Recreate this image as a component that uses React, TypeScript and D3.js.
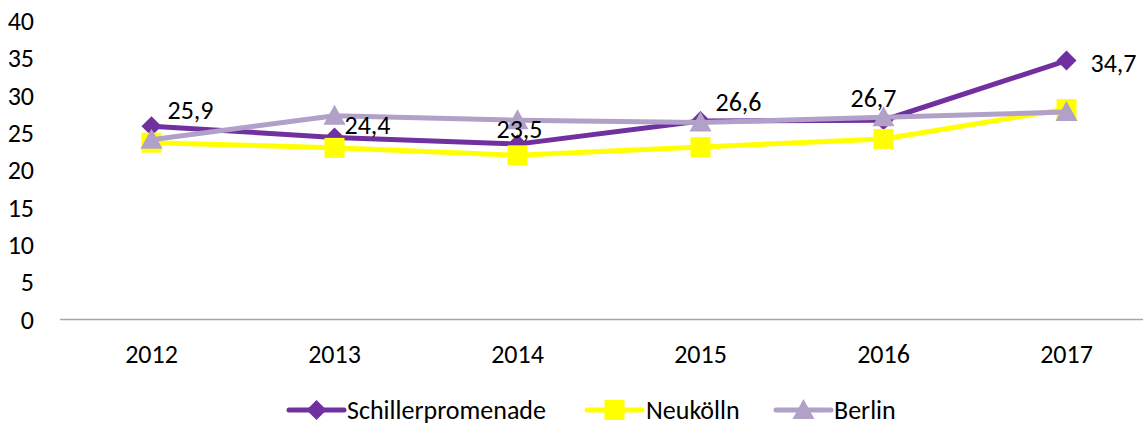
import React from "react";
import * as d3 from "d3";

const years = ["2012", "2013", "2014", "2015", "2016", "2017"];
const schiller = [25.9, 24.4, 23.5, 26.6, 26.7, 34.7];
const neukoelln = [23.7, 23.0, 22.0, 23.1, 24.2, 28.2];
const berlin = [24.1, 27.3, 26.7, 26.4, 27.1, 27.8];
const yTicks = [0, 5, 10, 15, 20, 25, 30, 35, 40];
const seriesNames = ["Schillerpromenade", "Neukölln", "Berlin"];

const labelOffsets: [number, number][] = [
  [39, -16], [33, -12], [2, -15], [38, -19], [-10, -22], [47, 2],
];

const W = 1145, H = 426;
const FONT = "Carlito, Calibri, Lato, sans-serif";
const FS = 26;

function marker(kind: string, x: number, y: number, color: string, key?: string) {
  if (kind === "diamond") {
    const r = 10;
    return <path key={key} d={`M${x},${y - r}L${x + r},${y}L${x},${y + r}L${x - r},${y}Z`} fill={color} />;
  }
  if (kind === "square") {
    const s = 10;
    return <rect key={key} x={x - s} y={y - s} width={2 * s} height={2 * s} fill={color} />;
  }
  const r = 11;
  return <path key={key} d={`M${x},${y - r}L${x + r},${y + 9}L${x - r},${y + 9}Z`} fill={color} />;
}

export default function App() {
  const x = d3.scaleBand<string>().domain(years).range([60, 1158]);
  const cx = (d: string) => (x(d) as number) + x.bandwidth() / 2;
  const y = d3.scaleLinear().domain([0, 40]).range([319.5, 21]);

  const series = [
    { name: seriesNames[0], values: schiller, color: "#7030A0", kind: "diamond" },
    { name: seriesNames[1], values: neukoelln, color: "#FFFF00", kind: "square" },
    { name: seriesNames[2], values: berlin, color: "#B1A0C7", kind: "triangle" },
  ];

  const line = d3.line<number>().x((_, i) => cx(years[i])).y((v) => y(v));

  const legendItems = [
    { lx: 289, tx: 347 },
    { lx: 587, tx: 646 },
    { lx: 776, tx: 834 },
  ];
  const LW = 55;

  return (
    <svg width={W} height={H} style={{ position: "absolute", left: 0, top: 0, background: "#fff" }} fontFamily={FONT}>
      {yTicks.map((t) => (
        <text key={t} x={34} y={y(t)} textAnchor="end" dominantBaseline="central" fontSize={FS} fill="#000">
          {t}
        </text>
      ))}
      <line x1={60} x2={1143} y1={y(0)} y2={y(0)} stroke="#A6A6A6" strokeWidth={1.5} />
      {years.map((yr) => (
        <text key={yr} x={cx(yr)} y={354} textAnchor="middle" dominantBaseline="central" fontSize={FS} fill="#000">
          {yr}
        </text>
      ))}
      {series.map((s) => (
        <g key={s.name}>
          <path d={line(s.values) as string} fill="none" stroke={s.color} strokeWidth={5} strokeLinejoin="round" />
          {s.values.map((v, i) => marker(s.kind, cx(years[i]), y(v), s.color, s.name + i))}
        </g>
      ))}
      {schiller.map((v, i) => (
        <text key={"l" + i} x={cx(years[i]) + labelOffsets[i][0]} y={y(v) + labelOffsets[i][1]}
          textAnchor="middle" dominantBaseline="central" fontSize={FS} fill="#000">
          {String(v).replace(".", ",")}
        </text>
      ))}
      {series.map((s, i) => (
        <g key={"lg" + i}>
          <line x1={legendItems[i].lx} x2={legendItems[i].lx + LW} y1={410} y2={410} stroke={s.color} strokeWidth={5} strokeLinecap="round" />
          {marker(s.kind, legendItems[i].lx + LW / 2, 410, s.color)}
          <text x={legendItems[i].tx} y={410} dominantBaseline="central" fontSize={FS} fill="#000">{s.name}</text>
        </g>
      ))}
    </svg>
  );
}
